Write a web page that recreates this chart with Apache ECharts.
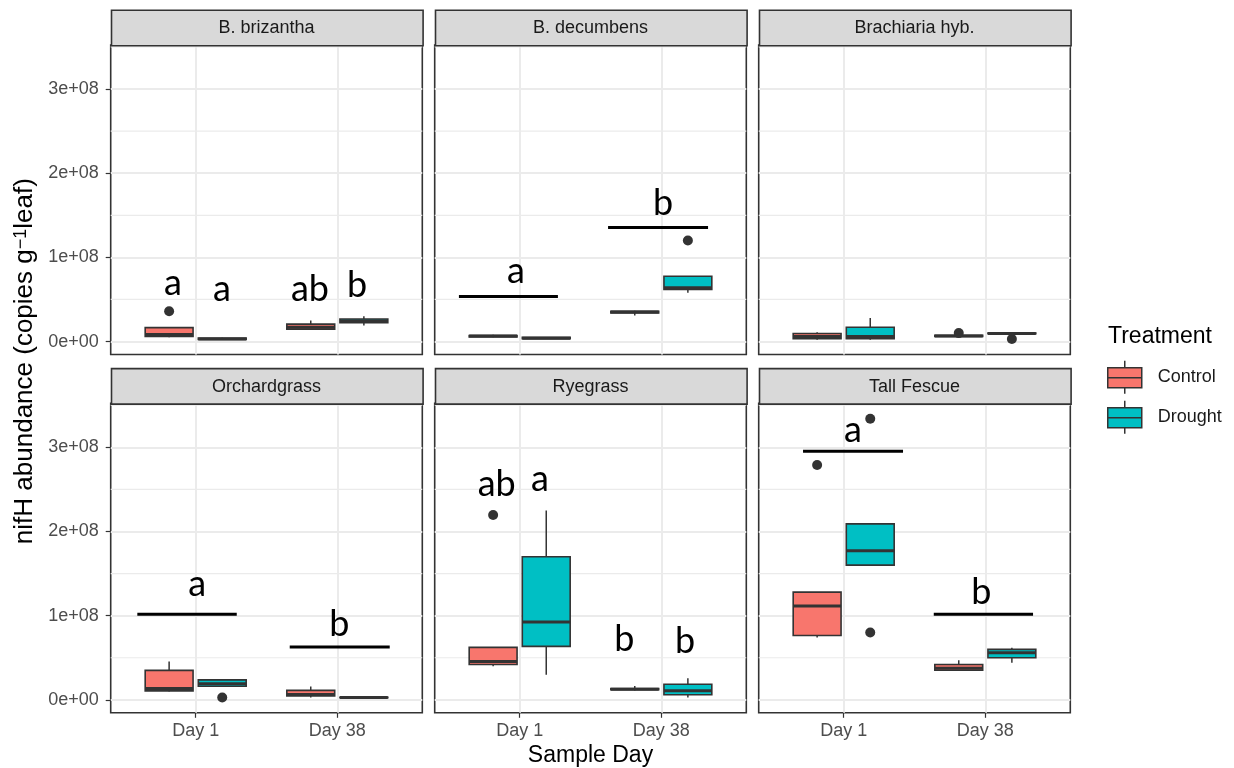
<!DOCTYPE html>
<html><head><meta charset="utf-8">
<script src="https://cdn.jsdelivr.net/npm/echarts@6/dist/echarts.min.js"></script>
<style>html,body{margin:0;padding:0;background:#fff}#c{width:1234px;height:768px}</style>
</head><body><div id="c"></div>
<script>
// ---------------- data ----------------
const panelNames = ['B. brizantha', 'B. decumbens', 'Brachiaria hyb.', 'Orchardgrass', 'Ryegrass', 'Tall Fescue'];
const dayLabels = ['Day 1', 'Day 38'];
const dayPositions = [1, 2];
const treatments = ['Control', 'Drought'];
const yTickValues = [0, 1, 2, 3];               // in units of 1e8 copies
const yTickLabels = ['0e+00', '1e+08', '2e+08', '3e+08'];
const yMinorBreaks = [0.5, 1.5, 2.5, 3.5];
const yLimits = [-0.154, 3.523];
const xLimits = [0.4, 2.6];

// box statistics (x1e8): [lower whisker, Q1, median, Q3, upper whisker]; per panel: [Day 1, Day 38]
const controlStats = [
  [[0.05, 0.06, 0.085, 0.165, 0.17], [0.145, 0.148, 0.17, 0.207, 0.25]],
  [[0.05, 0.055, 0.065, 0.07, 0.08], [0.31, 0.34, 0.35, 0.36, 0.365]],
  [[0.02, 0.035, 0.06, 0.095, 0.11], [0.05, 0.06, 0.065, 0.075, 0.08]],
  [[0.10, 0.107, 0.134, 0.35, 0.454], [0.027, 0.047, 0.063, 0.113, 0.158]],
  [[0.40, 0.42, 0.455, 0.623, 0.623], [0.11, 0.12, 0.125, 0.135, 0.165]],
  [[0.74, 0.765, 1.115, 1.28, 1.28], [0.352, 0.352, 0.375, 0.42, 0.47]]
];
const droughtStats = [
  [[0.02, 0.025, 0.03, 0.04, 0.045], [0.19, 0.223, 0.245, 0.267, 0.30]],
  [[0.03, 0.035, 0.04, 0.05, 0.05], [0.58, 0.62, 0.64, 0.775, 0.78]],
  [[0.02, 0.035, 0.06, 0.17, 0.28], [0.09, 0.092, 0.095, 0.10, 0.105]],
  [[0.16, 0.162, 0.19, 0.237, 0.24], [0.02, 0.024, 0.027, 0.03, 0.035]],
  [[0.297, 0.635, 0.925, 1.70, 2.25], [0.027, 0.06, 0.107, 0.186, 0.257]],
  [[1.60, 1.60, 1.77, 2.09, 2.09], [0.44, 0.50, 0.56, 0.60, 0.62]]
];
// outliers (x1e8); per panel: [Day 1, Day 38]
const controlOutliers = [[[0.36], []], [[], []], [[], [0.10]], [[], []], [[2.195], []], [[2.79], []]];
const droughtOutliers = [[[], []], [[], [1.20]], [[], [0.03]], [[0.027], []], [[], []], [[3.34, 0.80], []]];
// significance letters: [x (day position), y (x1e8, baseline), letter]
const letterMarks = [
  [[0.84, 0.558, 'a'], [1.186, 0.486, 'a'], [1.807, 0.486, 'ab'], [2.139, 0.534, 'b']],
  [[0.974, 0.70, 'a'], [2.012, 1.507, 'b']],
  [],
  [[1.01, 1.234, 'a'], [2.014, 0.759, 'b']],
  [[0.838, 2.42, 'ab'], [1.143, 2.48, 'a'], [1.739, 0.58, 'b'], [2.167, 0.556, 'b']],
  [[1.066, 3.07, 'a'], [1.972, 1.139, 'b']]
];
// grouping bars: [x start, x end, y (x1e8)]
const groupBars = [
  [],
  [[0.571, 1.27, 0.534], [1.624, 2.33, 1.356]],
  [],
  [[0.588, 1.29, 1.017], [1.664, 2.37, 0.629]],
  [],
  [[0.713, 1.419, 2.954], [1.636, 2.337, 1.017]]
];

// ---------------- layout / style ----------------
const COLORS = {Control: '#F8766D', Drought: '#00BFC4'};
const DODGE = {Control: -0.1875, Drought: 0.1875};
const HALF_W = 0.169;
const colLefts = [110.7, 434.7, 758.7];
const panelW = 311.6;
const rowTops = [45, 403.3];
const panelH = 309.5;
const stripH = 35.5;
const FONT = 'Liberation Sans';
const DARK = '#333333';
const SMALL = 18, LARGE = 23;

const chart = echarts.init(document.getElementById('c'), null, {renderer: 'canvas'});

const grids = [], xAxes = [], yAxes = [], series = [], graphics = [];

function boxRenderer(tr) {
  return function (params, api) {
    const x = api.value(0) + DODGE[tr];
    const lo = api.coord([x, api.value(1)]);
    const q1 = api.coord([x, api.value(2)]);
    const md = api.coord([x, api.value(3)]);
    const q3 = api.coord([x, api.value(4)]);
    const hi = api.coord([x, api.value(5)]);
    const l = api.coord([x - HALF_W, api.value(3)])[0];
    const r = api.coord([x + HALF_W, api.value(3)])[0];
    const ls = {stroke: DARK, lineWidth: 1.5};
    return {type: 'group', children: [
      {type: 'line', shape: {x1: lo[0], y1: lo[1], x2: q1[0], y2: q1[1]}, style: ls},
      {type: 'line', shape: {x1: q3[0], y1: q3[1], x2: hi[0], y2: hi[1]}, style: ls},
      {type: 'rect', shape: {x: l, y: q3[1], width: r - l, height: q1[1] - q3[1]},
        style: {fill: COLORS[tr], stroke: DARK, lineWidth: 1.6}},
      {type: 'line', shape: {x1: l, y1: md[1], x2: r, y2: md[1]}, style: {stroke: DARK, lineWidth: 3}}
    ]};
  };
}

for (let p = 0; p < 6; p++) {
  const row = Math.floor(p / 3), col = p % 3;
  const left = colLefts[col], top = rowTops[row];
  const isBottom = row === 1, isLeft = col === 0;
  grids.push({left: left, top: top, width: panelW, height: panelH, show: true,
    borderColor: DARK, borderWidth: 1.6, backgroundColor: 'rgba(0,0,0,0)',
    containLabel: false, outerBoundsMode: 'none'});
  xAxes.push({gridIndex: p, type: 'value', min: xLimits[0], max: xLimits[1], position: 'bottom',
    axisLine: {show: false, onZero: false},
    axisTick: {show: isBottom, customValues: dayPositions, length: 5, lineStyle: {color: DARK, width: 1.2}},
    axisLabel: {show: isBottom, customValues: dayPositions, margin: 9, fontSize: SMALL, color: '#4d4d4d', fontFamily: FONT,
      formatter: v => dayLabels[dayPositions.indexOf(v)]},
    splitLine: {show: true, lineStyle: {color: '#ebebeb', width: 2}}});
  yAxes.push({gridIndex: p, type: 'value', min: yLimits[0], max: yLimits[1], position: 'left',
    axisLine: {show: false, onZero: false},
    axisTick: {show: isLeft, customValues: yTickValues, length: 5, lineStyle: {color: DARK, width: 1.2}},
    axisLabel: {show: isLeft, customValues: yTickValues, margin: 12, fontSize: SMALL, color: '#4d4d4d', fontFamily: FONT,
      formatter: v => yTickLabels[yTickValues.indexOf(Math.round(v))]},
    splitLine: {show: true, lineStyle: {color: '#ebebeb', width: 2}}});

  // minor grid lines
  series.push({type: 'custom', name: 'minor', xAxisIndex: p, yAxisIndex: p, z: 1, silent: true,
    data: yMinorBreaks.map(v => [1, v]),
    renderItem: (params, api) => {
      const cs = params.coordSys;
      const y = api.coord([1, api.value(1)])[1];
      return {type: 'line', shape: {x1: cs.x, y1: y, x2: cs.x + cs.width, y2: y},
        style: {stroke: '#ebebeb', lineWidth: 1.2}};
    }});

  // boxes
  [['Control', controlStats], ['Drought', droughtStats]].forEach(([tr, stats]) => {
    series.push({type: 'custom', name: tr, xAxisIndex: p, yAxisIndex: p, z: 3,
      itemStyle: {color: COLORS[tr]},
      encode: {x: 0, y: [1, 2, 3, 4, 5]},
      data: stats[p].map((s, i) => [dayPositions[i]].concat(s)),
      renderItem: boxRenderer(tr)});
  });

  // outliers
  [['Control', controlOutliers], ['Drought', droughtOutliers]].forEach(([tr, outs]) => {
    const pts = [];
    outs[p].forEach((list, i) => list.forEach(v => pts.push([dayPositions[i], v])));
    series.push({type: 'custom', name: tr + ' outliers', xAxisIndex: p, yAxisIndex: p, z: 4,
      encode: {x: 0, y: 1}, data: pts,
      renderItem: (params, api) => {
        const c = api.coord([api.value(0) + DODGE[tr], api.value(1)]);
        return {type: 'circle', shape: {cx: c[0], cy: c[1], r: 5}, style: {fill: DARK}};
      }});
  });

  // grouping bars
  series.push({type: 'custom', name: 'bars', xAxisIndex: p, yAxisIndex: p, z: 5,
    data: groupBars[p], encode: {x: [0, 1], y: 2},
    renderItem: (params, api) => {
      const a = api.coord([api.value(0), api.value(2)]);
      const b = api.coord([api.value(1), api.value(2)]);
      return {type: 'line', shape: {x1: a[0], y1: a[1], x2: b[0], y2: b[1]}, style: {stroke: '#000', lineWidth: 3}};
    }});

  // letters
  const lm = letterMarks[p];
  series.push({type: 'custom', name: 'letters', xAxisIndex: p, yAxisIndex: p, z: 6,
    data: lm.map(d => [d[0], d[1]]), encode: {x: 0, y: 1},
    renderItem: (params, api) => {
      const c = api.coord([api.value(0), api.value(1)]);
      return {type: 'text', x: c[0], y: c[1] - 0.32 * 36,
        style: {text: lm[params.dataIndex][2], align: 'center', verticalAlign: 'middle',
          fontSize: 36, fontFamily: 'Lato', fill: '#000'}};
    }});

  // strip
  graphics.push({type: 'rect', left: left, top: top - stripH, z: 10,
    shape: {x: 0, y: 0, width: panelW, height: stripH},
    style: {fill: '#d9d9d9', stroke: DARK, lineWidth: 1.6}});
  graphics.push({type: 'text', x: left + panelW / 2, y: top - stripH / 2 + 1, z: 11,
    style: {text: panelNames[p], align: 'center', verticalAlign: 'middle', fontSize: SMALL, fontFamily: FONT, fill: '#1a1a1a'}});
}

// axis titles and legend title
graphics.push({type: 'text', x: colLefts[0] + (colLefts[2] + panelW - colLefts[0]) / 2, y: 756, z: 11,
  style: {text: 'Sample Day', align: 'center', verticalAlign: 'middle', fontSize: LARGE, fontFamily: FONT, fill: '#000'}});
graphics.push({type: 'text', x: 25, y: (rowTops[0] - stripH + rowTops[1] + panelH) / 2, rotation: Math.PI / 2, z: 11,
  style: {text: '{a|nifH abundance (copies g}{b|−1}{a|leaf)}', align: 'center', verticalAlign: 'middle',
    rich: {a: {fontSize: 26, fontFamily: FONT, fill: '#000'}, b: {fontSize: 18, fontFamily: FONT, fill: '#000', verticalAlign: 'top'}}}});
graphics.push({type: 'text', x: 1108, y: 337, z: 11,
  style: {text: 'Treatment', align: 'left', verticalAlign: 'middle', fontSize: LARGE, fontFamily: FONT, fill: '#000'}});

chart.setOption({
  animation: false,
  backgroundColor: '#ffffff',
  textStyle: {fontFamily: FONT},
  grid: grids, xAxis: xAxes, yAxis: yAxes, series: series,
  legend: {data: treatments, orient: 'vertical', left: 1107, top: 360, padding: 0,
    itemWidth: 34, itemHeight: 33, itemGap: 5.6, selectedMode: false,
    icon: 'path://M0,7L34,7L34,27L0,27ZM0,17L34,17M17,0L17,7M17,27L17,33',
    itemStyle: {borderColor: DARK, borderWidth: 1.5},
    textStyle: {fontSize: SMALL, color: '#1a1a1a', fontFamily: FONT, padding: [0, 0, 0, 11]}},
  graphic: graphics
});
</script></body></html>
